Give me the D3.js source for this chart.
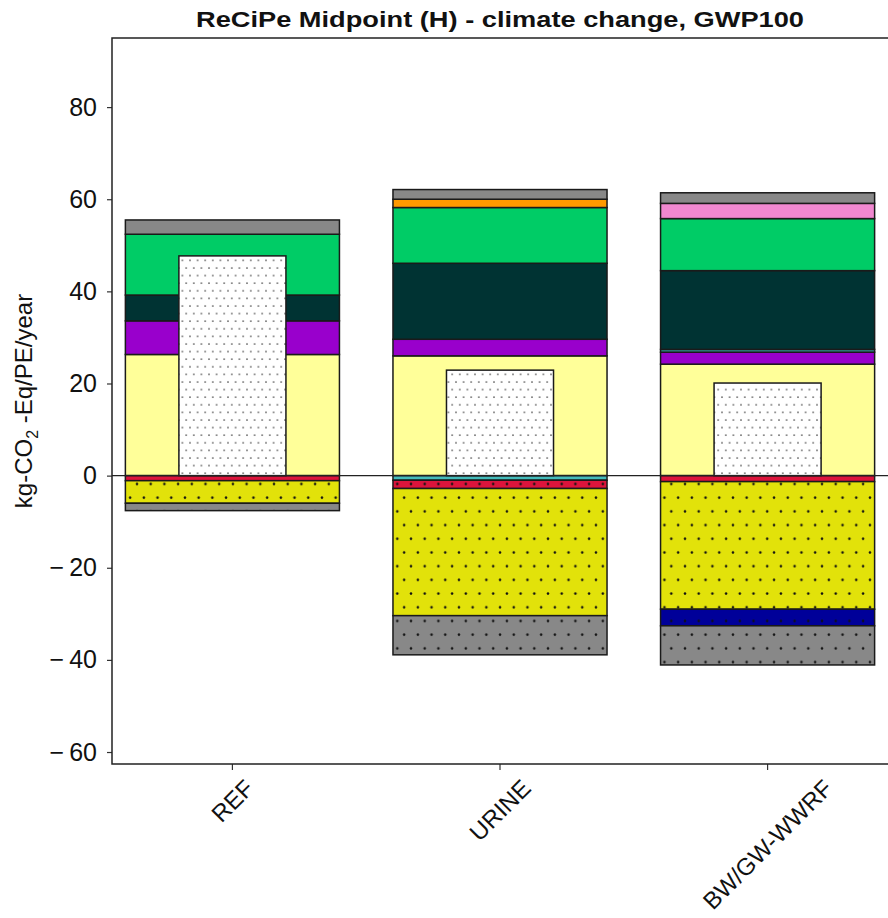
<!DOCTYPE html>
<html>
<head>
<meta charset="utf-8">
<script src="https://cdn.jsdelivr.net/npm/d3@7"></script>
<style>
  body { margin: 0; background: #fff; }
  text { font-family: "Liberation Sans", Arial, sans-serif; }
</style>
</head>
<body>
<div class="canvas"></div>
<script>
// DATA (kg CO2-eq / PE / year)
const categories = ["REF", "URINE", "BW/GW-WWRF"];

// positive contributions, bottom to top
const lightYellow = [26.3, 26.0, 24.2];
const purple      = [7.3, 3.6, 2.6];
const tealLine    = [0, 0, 0.6];
const darkTeal    = [5.6, 16.5, 17.1];
const green       = [13.2, 12.1, 11.3];
const pink        = [0, 0, 3.3];
const orange      = [0, 1.8, 0];
const grayTop     = [3.1, 2.1, 2.3];

// negative contributions, from zero downwards
const cyan      = [0, -1.0, 0];
const red       = [-1.1, -1.8, -1.3];
const yellowDot = [-4.9, -27.6, -27.7];
const blue      = [0, 0, -3.6];
const grayDot   = [-1.6, -8.5, -8.5];

// net result (narrow white bar)
const netTotal = [47.7, 22.9, 20.1];

const yTicks = [-60, -40, -20, 0, 20, 40, 60, 80];

// series table
const series = [
  {key: "lightYellow", values: lightYellow, fill: "#FFFF99"},
  {key: "purple", values: purple, fill: "#9900CC"},
  {key: "tealLine", values: tealLine, fill: "#339999"},
  {key: "darkTeal", values: darkTeal, fill: "#003333"},
  {key: "green", values: green, fill: "#00CC66"},
  {key: "pink", values: pink, fill: "#F088D0"},
  {key: "orange", values: orange, fill: "#FF9900"},
  {key: "grayTop", values: grayTop, fill: "#888888"},
  {key: "cyan", values: cyan, fill: "#44BBBB"},
  {key: "red", values: red, fill: "#DC143C", hatch: true},
  {key: "yellowDot", values: yellowDot, fill: "#E2E20A", hatch: true},
  {key: "blue", values: blue, fill: "#000099", hatch: true},
  {key: "grayDot", values: grayDot, fill: "#888888", hatch: true}
];

const rows = categories.map((c, i) => {
  const r = {cat: c};
  series.forEach(s => r[s.key] = s.values[i]);
  return r;
});

// Dimensions
const W = 888, H = 918;
const plot = {left: 112, right: 888, top: 38, bottom: 764};

const svg = d3.select(".canvas")
  .append("svg")
  .attr("width", W)
  .attr("height", H);

// hatch patterns
const defs = svg.append("defs");
const step = 13.7;
series.filter(s => s.hatch).forEach(s => {
  const p = defs.append("pattern")
    .attr("id", "h-" + s.key)
    .attr("patternUnits", "userSpaceOnUse")
    .attr("width", step).attr("height", step * 2);
  p.append("rect").attr("width", step).attr("height", step * 2).attr("fill", s.fill);
  [[0, 18.2], [step, 18.2], [step / 2, 4.5]].forEach(([cx, cy]) => {
    p.append("circle").attr("cx", cx).attr("cy", cy).attr("r", 1.25).attr("fill", "#111");
  });
});
const fine = 7.6;
const pw = defs.append("pattern")
  .attr("id", "h-white")
  .attr("patternUnits", "userSpaceOnUse")
  .attr("width", fine).attr("height", fine * 2);
pw.append("rect").attr("width", fine).attr("height", fine * 2).attr("fill", "#fff");
[[0, 2], [fine, 2], [fine / 2, 2 + fine]].forEach(([cx, cy]) => {
  pw.append("circle").attr("cx", cx).attr("cy", cy).attr("r", 0.9).attr("fill", "#555");
});

// SCALES
const xScale = d3.scaleBand()
  .domain(categories)
  .range([plot.left, plot.right])
  .paddingInner(0.2)
  .paddingOuter(0.05);

const yScale = d3.scaleLinear()
  .domain([-62.6, 95])
  .range([plot.bottom, plot.top]);

// STACKED BARS
const stacked = d3.stack()
  .keys(series.map(s => s.key))
  .offset(d3.stackOffsetDiverging)(rows);

const fillOf = {};
series.forEach(s => fillOf[s.key] = s.hatch ? `url(#h-${s.key})` : s.fill);

const layers = svg.append("g").selectAll("g")
  .data(stacked)
  .enter()
  .append("g")
  .attr("fill", d => fillOf[d.key]);

layers.selectAll("rect")
  .data(d => d.filter(v => v[1] - v[0] !== 0))
  .enter()
  .append("rect")
  .attr("x", d => xScale(d.data.cat))
  .attr("width", xScale.bandwidth())
  .attr("y", d => yScale(d[1]))
  .attr("height", d => yScale(d[0]) - yScale(d[1]))
  .attr("stroke", "#1a1a1a")
  .attr("stroke-width", 1.5);

// NET BARS
const inner = xScale.bandwidth() / 2;
svg.append("g").selectAll("rect")
  .data(netTotal)
  .enter()
  .append("rect")
  .attr("x", (d, i) => xScale(categories[i]) + (xScale.bandwidth() - inner) / 2)
  .attr("width", inner)
  .attr("y", d => yScale(d))
  .attr("height", d => yScale(0) - yScale(d))
  .attr("fill", "url(#h-white)")
  .attr("stroke", "#1a1a1a")
  .attr("stroke-width", 1.5);

// zero line
svg.append("line")
  .attr("x1", plot.left).attr("x2", plot.right)
  .attr("y1", yScale(0)).attr("y2", yScale(0))
  .attr("stroke", "#222").attr("stroke-width", 1.2);

// AXES
const fmt = d => d < 0 ? "\u2212\u2009" + Math.abs(d) : String(d);
const yAxis = svg.append("g")
  .attr("transform", `translate(${plot.left},0)`)
  .call(d3.axisLeft(yScale).tickValues(yTicks).tickFormat(fmt).tickSize(5).tickPadding(10));
yAxis.select(".domain").remove();
yAxis.selectAll("line").attr("stroke", "#333").attr("stroke-width", 1.2);
yAxis.selectAll("text").attr("font-size", 25).attr("fill", "#111")
  .style("font-family", "'Liberation Sans', Arial, sans-serif");

const xAxis = svg.append("g")
  .attr("transform", `translate(0,${plot.bottom})`)
  .call(d3.axisBottom(xScale).tickSize(6).tickFormat(""));
xAxis.select(".domain").remove();
xAxis.selectAll("line").attr("stroke", "#333").attr("stroke-width", 1.2);

// spines
svg.append("path")
  .attr("d", `M${plot.right},${plot.top}H${plot.left}V${plot.bottom}H${plot.right}`)
  .attr("fill", "none")
  .attr("stroke", "#222")
  .attr("stroke-width", 1.5);

// rotated category labels, centred under ticks
const xFont = 24;
categories.forEach(c => {
  const t = svg.append("text")
    .attr("font-size", xFont)
    .attr("fill", "#111")
    .attr("text-anchor", "middle")
    .attr("dominant-baseline", "central")
    .text(c);
  const w = t.node().getComputedTextLength();
  const cx = xScale(c) + xScale.bandwidth() / 2;
  const cy = plot.bottom + 13 + (w + xFont * 0.8) * 0.7071 / 2;
  t.attr("x", cx).attr("y", cy)
    .attr("transform", `rotate(-45,${cx},${cy})`);
});

// title
svg.append("text")
  .attr("x", (plot.left + plot.right) / 2)
  .attr("y", 27)
  .attr("text-anchor", "middle")
  .attr("font-size", 22)
  .attr("font-weight", "bold")
  .attr("fill", "#111")
  .attr("textLength", 608)
  .attr("lengthAdjust", "spacingAndGlyphs")
  .text("ReCiPe Midpoint (H) - climate change, GWP100");

// y label
const yl = svg.append("text")
  .attr("transform", `translate(32,${(plot.top + plot.bottom) / 2}) rotate(-90)`)
  .attr("text-anchor", "middle")
  .attr("font-size", 24)
  .attr("fill", "#111");
yl.append("tspan").text("kg-CO");
yl.append("tspan").attr("font-size", 16).attr("dy", 6).text("2");
yl.append("tspan").attr("dy", -6).text(" -Eq/PE/year");
</script>
</body>
</html>
